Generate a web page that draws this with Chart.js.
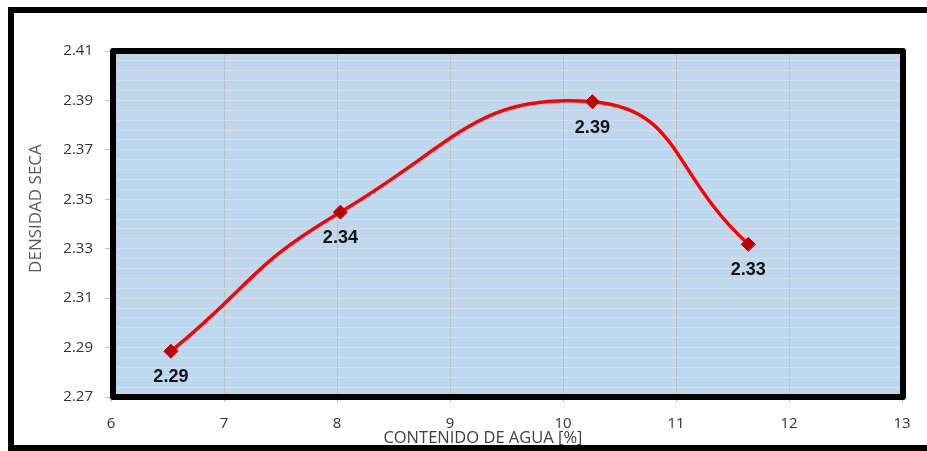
<!DOCTYPE html>
<html>
<head>
<meta charset="utf-8">
<script src="https://cdn.jsdelivr.net/npm/chart.js@4"></script>
<style>
  html, body { margin: 0; padding: 0; background: #fff; }
  canvas { display: block; }
</style>
</head>
<body>
<canvas id="compactacion" width="927" height="451"></canvas>
<script>
const contenidoAgua = [6.53, 8.03, 10.26, 11.64];
const densidadSeca = [2.2885, 2.3448, 2.3895, 2.3318];
const etiquetas = ['2.29', '2.34', '2.39', '2.33'];
const xTicks = [6, 7, 8, 9, 10, 11, 12, 13];
const yMajor = ['2.27', '2.29', '2.31', '2.33', '2.35', '2.37', '2.39', '2.41'];

// las marcas menores van cada 0.004, solo las mayores llevan texto
const isMajor = v => yMajor.includes(Number(v).toFixed(2)) && Math.abs(v * 100 - Math.round(v * 100)) < 1e-6;
const nbsp = n => '\u00a0'.repeat(n);

const fondo = {
    id: 'fondo',
    beforeDraw(chart) {
        const { ctx, chartArea: a } = chart;
        ctx.save();
        ctx.fillStyle = '#fff';
        ctx.fillRect(0, 0, chart.width, chart.height);
        ctx.fillStyle = '#BDD7EE';
        ctx.fillRect(a.left, a.top, a.right - a.left, a.bottom - a.top);
        ctx.restore();
    },
    afterDraw(chart) {
        const { ctx, chartArea: a } = chart;
        ctx.save();
        ctx.strokeStyle = '#000';
        ctx.lineWidth = 6;
        ctx.strokeRect(11, 10, 1000, 438);
        ctx.lineJoin = 'round';
        ctx.strokeRect(a.left + 2, a.top, a.right - a.left - 1, a.bottom - a.top);
        ctx.restore();
    }
};

const etiquetasPlugin = {
    id: 'etiquetas',
    afterDatasetsDraw(chart) {
        const { ctx } = chart;
        const meta = chart.getDatasetMeta(0);
        ctx.save();
        ctx.font = 'bold 18px "Liberation Sans", Arial, sans-serif';
        ctx.fillStyle = '#111';
        ctx.textAlign = 'center';
        ctx.textBaseline = 'middle';
        meta.data.forEach((p, i) => {
            ctx.fillText(etiquetas[i], p.x, p.y + 26);
        });
        ctx.restore();
    }
};

new Chart(document.getElementById('compactacion'), {
    type: 'scatter',
    data: {
        datasets: [{
            data: contenidoAgua.map((x, i) => ({ x, y: densidadSeca[i] })),
            showLine: true,
            tension: 0.5,
            borderColor: '#FF0000',
            borderWidth: 3.5,
            pointStyle: 'rectRot',
            pointRadius: 7,
            pointBackgroundColor: '#C00000',
            pointBorderColor: '#C00000',
            pointBorderWidth: 1
        }]
    },
    options: {
        responsive: false,
        animation: false,
        layout: { padding: { top: 51, right: 25, left: 0, bottom: 0 } },
        plugins: { legend: { display: false }, tooltip: { enabled: false } },
        scales: {
            x: {
                type: 'linear',
                min: xTicks[0],
                max: xTicks[xTicks.length - 1],
                afterBuildTicks: s => { s.ticks = xTicks.map(value => ({ value })); },
                afterFit: s => { s.height = 54; },
                border: { display: false },
                grid: { color: '#BFBFBF', tickColor: '#BFBFBF', tickLength: 5 },
                ticks: {
                    color: '#333',
                    padding: 13,
                    font: { family: '"Open Sans", sans-serif', size: 15 }
                },
                title: {
                    display: true,
                    text: 'CONTENIDO DE AGUA [%]' + nbsp(11),
                    color: '#404040',
                    font: { family: '"Open Sans", sans-serif', size: 16.5 },
                    padding: { top: 0, bottom: 3 }
                }
            },
            y: {
                min: 2.27,
                max: 2.41,
                afterFit: s => { s.width = 111; },
                border: { display: false },
                grid: {
                    color: '#D6DCE4',
                    tickColor: c => isMajor(c.tick.value) ? '#BFBFBF' : 'rgba(0,0,0,0)',
                    tickLength: 6
                },
                ticks: {
                    stepSize: 0.004,
                    autoSkip: false,
                    color: '#333',
                    padding: 12,
                    font: { family: '"Open Sans", sans-serif', size: 15 },
                    callback: v => isMajor(v) ? Number(v).toFixed(2) : ''
                },
                title: {
                    display: true,
                    text: nbsp(7) + 'DENSIDAD SECA',
                    color: '#595959',
                    font: { family: '"Open Sans", sans-serif', size: 17 },
                    padding: { top: 26, bottom: 0 }
                }
            }
        }
    },
    plugins: [fondo, etiquetasPlugin]
});
</script>
</body>
</html>
